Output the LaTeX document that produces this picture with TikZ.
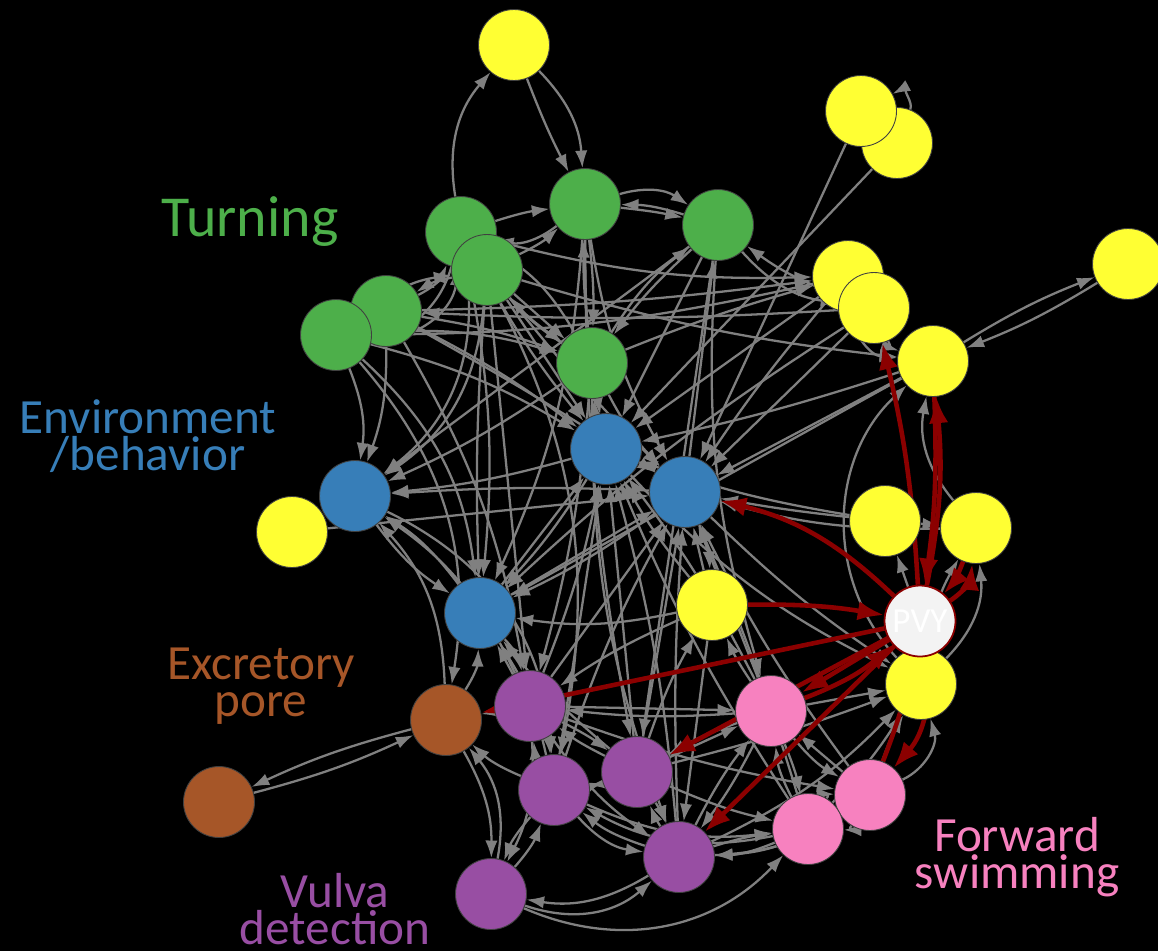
\documentclass[tikz,border=0pt]{standalone}
\usepackage{fontspec}
\setmainfont{Carlito}
\usepackage{tikz}
\usetikzlibrary{arrows.meta, backgrounds}
\definecolor{cyel}{RGB}{255,255,51}
\definecolor{cgrn}{RGB}{77,175,74}
\definecolor{cblu}{RGB}{55,126,184}
\definecolor{cpur}{RGB}{152,78,163}
\definecolor{cbrn}{RGB}{166,86,40}
\definecolor{cpnk}{RGB}{247,129,191}
\definecolor{cred}{RGB}{139,0,0}
\definecolor{cedge}{RGB}{128,128,128}
\definecolor{cpvy}{RGB}{243,243,243}

\begin{document}
\begin{tikzpicture}[x=0.02cm, y=-0.02cm,
  neuron/.style={circle, minimum size=1.42cm, inner sep=0pt, draw=black!75, line width=0.5pt},
  edge/.style={draw=cedge, line width=1.3pt, -{Latex[length=10pt,width=7pt]}},
  hub/.style={draw=cred, line width=2.6pt, -{Latex[length=15pt,width=11pt]}},
  group/.style={font=\fontsize{28}{21}\selectfont, align=center},
]
  \useasboundingbox (0,0) rectangle (1158,951);

  % Neurons, drawn back to front where they overlap
  \foreach \n/\x/\y in {ya/514/45, yc/897/143, yb/861/111, yd/1128/264, ye/848/276,
      yf/874/308, yg/933/361, yh/292/532, yi/885/521, yj/976/528, yk/712/605, yl/921/684}
    \node[neuron, fill=cyel] (\n) at (\x,\y) {};
  \foreach \n/\x/\y in {ga/585/204, gb/718/225, gc/461/232, gd/487/270, ge/386/311,
      gf/336/335, gg/592/363}
    \node[neuron, fill=cgrn] (\n) at (\x,\y) {};
  \foreach \n/\x/\y in {ba/606/449, bb/685/492, bc/355/496, bd/480/613}
    \node[neuron, fill=cblu] (\n) at (\x,\y) {};
  \foreach \n/\x/\y in {ra/446/720, rb/219/802}
    \node[neuron, fill=cbrn] (\n) at (\x,\y) {};
  \foreach \n/\x/\y in {pa/530/706, pb/637/772, pc/554/790, pd/679/857, pe/491/894}
    \node[neuron, fill=cpur] (\n) at (\x,\y) {};
  \foreach \n/\x/\y in {ka/771/711, kb/870/795, kc/808/829}
    \node[neuron, fill=cpnk] (\n) at (\x,\y) {};
  \node[neuron, fill=cpvy, draw=cred, line width=1pt, text=white,
        font=\fontsize{20}{20}\selectfont] (pvy) at (920,621) {PVY};

  % Group labels
  \node[group, text=cgrn, font=\fontsize{33}{24}\selectfont] (turning) at (250,222) {Turning};
  \node[group, text=cblu] (envir) at (148,436) {Environment\\/behavior};
  \node[group, text=cbrn] (excret) at (261,686) {Excretory\\pore};
  \node[group, text=cpur] (vulva) at (335,909) {Vulva\\detection};
  \node[group, text=cpnk] (forward) at (1017,857) {Forward\\swimming};

  \begin{scope}[on background layer]
    \fill[black] (0,0) rectangle (1158,951);
    % Synapses
    \foreach \s/\t/\b in {gc/ya/25, ya/ga/20, ya/ga/-3, ga/gc/25, gc/ga/5, gd/ga/-8,
        ga/gb/25, ga/gb/3, gb/ga/-8, gc/gf/35, ge/gc/-20, gf/gc/-45, gd/ge/-10, gf/gd/15,
        gc/gg/-10, gd/gg/0, ge/gg/5, gf/gg/10, gg/gc/-15, gg/gd/8, ga/gg/4, gg/ga/4,
        gg/gb/10, gb/gg/-5, bb/gb/0, yf/gb/8, gb/yf/-20, gc/ye/-8, gd/yg/-5, ge/ye/-3,
        ye/gf/6, yf/ge/3, gg/ye/3, gc/ba/-5, gd/ba/0, ge/ba/5, gf/ba/8, ga/ba/-5,
        ga/bb/-10, gg/ba/0, ba/gg/6, gg/bb/-8, gd/bb/-3, ge/bb/2, gf/bc/15, ge/bc/10,
        gd/bc/25, gc/bc/30, gc/bd/8, gd/bd/-3, gf/bd/20, ga/bd/10, gb/ba/0, gb/bc/0,
        gg/bc/5, ba/bc/5, bb/bc/-3, gg/pa/5, ga/pb/-5, gc/pc/20, gd/pa/0, ge/pa/10,
        gf/ra/25, gg/pd/-10, gb/pb/0, gb/ka/-10}
      \draw[edge] (\s) to[bend left=\b] (\t);
    \foreach \s/\t/\b in {yc/yb/-70, yd/yg/5, yg/yd/5, yb/bb/0, yc/ba/0, ye/yg/-40,
        yf/yg/-25, ye/ba/0, ye/bb/-3, yf/bb/0, yf/bd/-5, yg/bb/0, yg/ba/3, yg/bd/0,
        yi/yj/0, yi/bb/2, yi/ba/5, yj/bb/8, yj/yg/25, yl/yg/45, yk/bb/0, yk/ba/5,
        bb/yk/10, yk/bd/10, ka/yk/5, yk/pa/-5, yk/pd/0, pb/yk/5, yh/bb/0, pvy/yi/0,
        ba/yl/-10, bb/yl/-5, yl/yj/-25, yl/yj/10}
      \draw[edge] (\s) to[bend left=\b] (\t);
    \foreach \s/\t/\b in {bc/bd/-10, bd/bc/-10, bd/ba/0, ba/bd/5, bb/bd/5, bd/bb/0,
        pa/bd/0, bd/pa/15, pb/bd/5, pc/bd/-10, ra/bd/-15, pa/bc/-15, ra/bc/-20, bc/pc/30,
        pc/ba/0, pa/ba/-5, pb/ba/0, pd/ba/-5, ka/ba/-5, ka/bb/0, kb/bb/5, kc/bb/-3,
        pb/bb/0, pd/bb/3, pc/bb/5, pa/bb/0, kc/ba/5, ra/rb/-5, rb/ra/-5, pa/ra/0,
        pe/ra/-25, ra/pe/15, pc/ra/10}
      \draw[edge] (\s) to[bend left=\b] (\t);
    \foreach \s/\t/\b in {pa/pc/10, pc/pa/10, pa/pb/5, pb/pa/5, pc/pb/-5, pb/pc/5,
        pb/pd/5, pd/pb/5, pc/pd/-20, pd/pc/10, pe/pc/-10, pc/pe/-10, pa/pe/15, pd/pe/20,
        pe/pd/-30, pe/kc/-35, pa/pd/-10, pa/ka/0, ka/pa/5, pb/ka/0, ka/pb/-5, ka/pd/5,
        pd/ka/5, ka/kc/5, kc/ka/10, ka/kb/-10, kb/ka/0, kc/kb/30, kb/kc/30, pd/kc/5,
        kc/pd/10, pd/kb/-15, kb/pd/15, pb/kc/-5, pa/kb/-5, pc/kc/-15, kc/pc/20, ka/yl/0,
        kb/yl/5, kc/yl/-5, kb/yl/-40, pb/yl/-3, pd/yl/-10}
      \draw[edge] (\s) to[bend left=\b] (\t);
    % PVY connections
    \foreach \s/\t/\b in {pvy/bb/-15, yk/pvy/5, pvy/ra/0, pvy/ka/0, ka/pvy/-10,
        pvy/pb/0, pvy/pd/0, pvy/kb/25, kb/pvy/-5, pvy/yj/-25, yj/pvy/10, pvy/yf/-5,
        yg/pvy/5, pvy/yg/-8}
      \draw[hub] (\s) to[bend left=\b] (\t);
  \end{scope}
\end{tikzpicture}
\end{document}
